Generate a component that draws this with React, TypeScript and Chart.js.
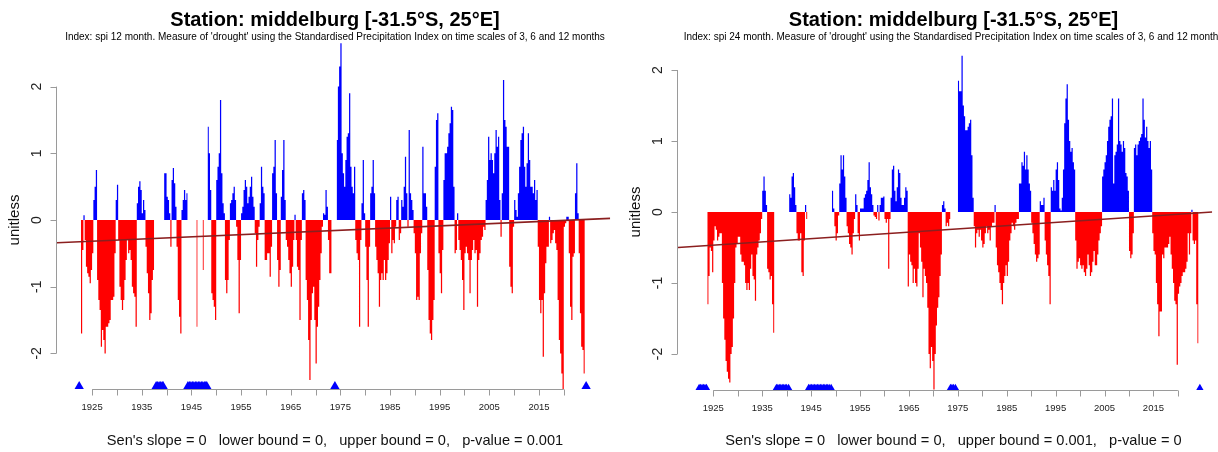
import React, { useEffect, useRef } from "react";
import { Chart, registerables } from "chart.js";

Chart.register(...registerables);

// ---------- texts ----------
const TITLE = "Station: middelburg [-31.5°S, 25°E]";
const SUBTITLE_12 =
  "Index: spi 12 month. Measure of 'drought' using the Standardised Precipitation Index on time scales of 3, 6 and 12 months";
const SUBTITLE_24 =
  "Index: spi 24 month. Measure of 'drought' using the Standardised Precipitation Index on time scales of 3, 6 and 12 months";
const FOOT_12 = "Sen's slope = 0   lower bound = 0,   upper bound = 0,   p-value = 0.001";
const FOOT_24 = "Sen's slope = 0   lower bound = 0,   upper bound = 0.001,   p-value = 0";
const Y_LABEL = "unitless";

// ---------- ticks ----------
const yTicks = [-2, -1, 0, 1, 2];
const xTicks = [1925, 1930, 1935, 1940, 1945, 1950, 1955, 1960, 1965, 1970, 1975, 1980, 1985, 1990, 1995, 2000, 2005, 2010, 2015, 2020];
const xTickLabels = [1925, 1935, 1945, 1955, 1965, 1975, 1985, 1995, 2005, 2015];

// ---------- SPI 12 : quarterly values, each array starts at its decade (null = missing) ----------
const spi12_1920s = [null, null, null, null, null, null, null, null, null, null, null,
  -1.7, -0.45, 0.07, -0.3, -0.7, -0.8, -0.85, -0.95, -0.75, -0.5, 0.3, 0.5, 0.75,
  -0.9, -1.2, -1.35, -1.9, -1.65, -1.8, -2.0, -1.6, -1.6, -1.55, -1.5, -1.2, -1.2, -1.15, -0.5, 0.3];
const spi12_1930s = [0.53, -0.3, -1.0, -1.2, -1.35, -1.2, -0.9, -0.6, -0.3, -0.5, -0.45, -0.6,
  -1.0, -1.1, -1.15, -1.6, 0.25, 0.5, 0.58, 0.45, 0.1, 0.3, 0.15, -0.4, -0.8, -1.1, -1.5, -1.4,
  -0.9, -0.75, null, null, null, null, null, null, null, null, 0.7, 0.7];
const spi12_1940s = [0.35, 0.3, 0.1, -0.4, 0.6, 0.78, 0.55, 0.2, -0.4, -1.2, -1.45, -1.7,
  0.15, 0.3, 0.45, 0.3, 0.4, null, null, null, null, null, null, null, -1.6, null, null, null, null,
  -0.75, null, null, null, 1.4, 1.0, 0.45, -1.1, -1.2, -1.3, -1.5];
const spi12_1950s = [0.6, 0.8, 1.0, 1.8, 0.7, 0.25, 0.1, -0.9, -1.1, -0.9, -0.3, 0.25, 0.3, 0.4,
  0.5, 0.3, -0.1, -0.6, -1.4, -0.6, 0.1, 0.2, 0.45, 0.6, 0.5, 0.25, 0.35, 0.5, 0.65, 0.35, 0.2,
  -0.2, -0.7, -0.3, -0.1, 0.25, 0.8, 0.5, 0.4, -0.6];
const spi12_1960s = [-0.6, -0.5, -0.5, -0.85, -0.4, 0.7, 0.8, 1.2, 0.4, -0.6, -1.0, -0.75, 0.35,
  0.75, 1.2, 0.3, -0.3, -0.4, -0.6, -0.8, -1.0, -0.7, -0.3, 0.08, -0.3, -0.7, -0.75, -1.5, -0.3,
  0.4, 0.45, 0.3, -0.9, -1.2, -1.8, -2.4, -1.5, -1.1, -1.0, -1.5];
const spi12_1970s = [-2.15, -1.6, -1.3, -0.9, -0.5, -0.1, 0.1, 0.08, 0.45, 0.2, -0.3, -0.8, -0.8,
  null, null, null, null, 1.2, 2.0, 2.3, 2.65, 1.0, 0.7, 0.5, 0.9, 1.25, 1.3, 1.9, 0.8, 0.5, 0.4,
  0.8, -0.3, -0.5, -0.6, -1.6, -0.3, 0.25, 0.9, 0.1];
const spi12_1980s = [-0.4, -0.9, -1.6, -0.4, 0.4, 0.5, 0.9, 0.4, -0.4, -0.6, -0.8, -1.3, -0.9,
  -0.8, -0.9, -0.6, -0.9, -0.8, -0.6, -0.35, 0.35, -0.5, -0.3, -0.35, -0.1, 0.3, 0.35, -0.3, -0.2,
  0.3, 0.2, 0.5, 0.95, 0.4, -0.1, 1.35, 0.4, 0.3, 0.15, -0.2];
const spi12_1990s = [-0.5, -1.2, -1.15, -1.2, -0.5, -0.2, 1.1, 0.4, 0.4, 0.2, -0.75, -1.5, -1.7,
  -1.8, -1.5, -1.2, 0.8, 1.5, 1.6, -0.5, -0.8, -1.1, -0.45, 0.6, 1.0, 1.0, 1.1, 1.3, 1.45, 1.7,
  1.65, 0.5, -0.5, -0.45, 0.1, -0.3, -0.45, -0.6, -0.9, -1.35];
const spi12_2000s = [-0.5, -0.4, -0.5, -0.6, -1.1, -0.6, -0.45, -0.3, -0.5, -0.45, -1.3, -0.6,
  -0.5, -0.3, -0.25, -0.1, -0.15, 0.3, 0.6, 1.25, 0.9, 1.0, 0.9, 0.7, 1.0, 1.35, 1.1, 1.25, 0.3,
  -0.25, 0.4, 2.1, 1.5, 1.4, 1.1, 1.1, -0.7, -1.0, -1.1, -0.1];
const spi12_2010s = [0.3, 0.15, 0.05, 0.4, 0.8, 1.2, 1.3, 1.4, 0.8, 0.5, 0.85, 1.3, 0.9, 0.5, 0.5,
  0.4, 0.6, 0.3, 0.45, -0.4, -1.2, -1.4, -1.2, -2.05, -1.1, -0.65, -0.4, -0.4, 0.05, -0.35, -0.3,
  -0.2, -0.15, -0.35, -0.45, -1.2, -1.8, -2.0, -2.3, -2.55];
const spi12_2020s = [-0.1, -0.05, 0.05, 0.05, -0.5, -1.3, -1.5, -0.55, -0.5, 0.4, 0.85, 0.1, -0.5,
  -1.4, -1.9, -1.95, -2.3];

// ---------- SPI 24 ----------
const spi24_1920s = [null, null, null, null, null, null, null, null, null, null, null, null, null, null, null,
  -1.3, -0.9, -0.5, -0.55, -0.85, -0.4, -0.2, -0.25, -0.4, -0.35, -0.3, -0.3, -1.0, -1.5, -1.8,
  -2.1, -2.25, -2.35, -2.4, -2.0, -1.9, -1.5, -1.0, -0.5, -0.45];
const spi24_1930s = [-0.35, -0.35, -0.6, -0.7, -0.7, -0.75, -1.0, -1.1, -1.0, -1.1, -0.8, -0.6,
  -0.9, -0.95, -1.25, -0.6, -0.5, -0.4, -0.3, -0.1, 0.3, 0.5, 0.3, 0.1, -0.8, -0.85, -0.95, -0.9,
  -1.3, -1.7, null, null, null, null, null, null, null, null, null, null];
const spi24_1940s = [null, null, 0.25, 0.2, 0.5, 0.55, 0.35, 0.1, -0.3, -0.4, -0.4, -0.3, -0.85,
  -0.9, -0.4, 0.1, -0.1, null, null, null, null, null, null, null, null, null, null, null, null,
  null, null, null, null, null, null, null, null, 0.3, 0.05, -0.2];
const spi24_1950s = [-0.4, -0.3, -0.05, 0.4, 0.8, 0.6, 0.8, 0.5, 0.2, -0.2, -0.3, -0.45, -0.5,
  -0.6, -0.3, -0.1, 0.25, 0.1, -0.3, -0.4, 0.05, 0.05, 0.05, 0.2, 0.25, 0.3, 0.45, 0.7, 0.35, 0.25,
  0.1, -0.05, -0.07, -0.1, 0.1, -0.12, 0.1, 0.2, 0.2, 0.22];
const spi24_1960s = [-0.1, -0.15, -0.1, -0.8, -0.1, 0.2, 0.6, 0.65, 0.3, 0.15, 0.35, 0.6, 0.55,
  0.2, 0.1, 0.1, 0.2, 0.35, 0.3, -1.05, -0.6, -0.7, -0.75, -1.0, -0.8, -1.0, -1.05, -0.8, -0.3,
  -0.5, -0.7, -1.2, -0.8, -0.9, -1.0, -1.35, -2.0, -2.2, -1.9, -2.1];
const spi24_1970s = [-2.5, -2.0, -1.6, -1.35, -1.2, -0.9, -0.6, 0.1, 0.15, 0.05, -0.2, -0.15, -0.2,
  -0.1, null, null, null, null, null, null, 1.85, 1.7, 1.7, 2.2, 1.5, 1.35, 1.15, 1.15, 1.2, 1.25,
  1.3, 0.8, 0.2, -0.2, -0.5, -0.3, -0.25, -0.35, -0.25, -0.4];
const spi24_1980s = [-0.5, -0.45, -0.3, -0.2, -0.3, -0.25, -0.4, -0.2, -0.15, -0.15, 0.1, -0.5,
  -0.75, -0.85, -1.0, -1.1, -1.3, -1.0, -0.9, -0.75, -0.9, -0.7, -0.4, -0.3, -0.15, -0.2, -0.25,
  -0.15, -0.1, -0.1, 0.4, 0.4, 0.7, 0.65, 0.85, 0.6, 0.8, 0.6, 0.4, 0.3];
const spi24_1990s = [-0.15, -0.3, -0.45, -0.6, -0.7, -0.65, -0.6, 0.15, 0.1, 0.1, 0.2, -0.4, -0.6,
  -0.75, -0.9, -1.3, 0.35, 0.3, 0.45, 0.3, 0.6, 0.7, 0.45, 0.05, 0.02, 0.2, 0.6, 1.25, 1.6, 1.8,
  1.3, 1.0, 0.85, 0.9, 0.7, 0.6, -0.4, -0.8, -0.7, -0.65];
const spi24_2000s = [-0.75, -0.8, -0.75, -0.85, -0.9, -0.8, -0.6, -0.75, -0.9, -0.85, -0.7, -0.55,
  -0.75, -0.75, -0.6, -0.4, -0.3, -0.2, 0.5, 0.6, 0.7, 0.8, 1.0, 1.2, 1.3, 1.35, 1.6, 0.4, 0.8,
  0.85, 0.95, 1.6, 1.0, 0.95, 0.85, 1.0, 0.9, 0.55, 0.5, 0.3];
const spi24_2010s = [-0.55, -0.65, -0.6, -0.3, 0.9, 0.95, 0.8, 0.95, 1.0, 1.05, 1.1, 1.6, 1.3,
  1.05, 1.2, 1.0, 0.9, 1.0, 0.6, -0.3, -0.55, -0.6, -1.0, -1.3, -1.75, -1.4, -1.4, -0.6, -0.65,
  -0.5, -0.5, -0.5, -0.45, -0.35, -0.6, -0.8, -1.0, -1.25, -1.3, -2.15];
const spi24_2020s = [-1.15, -1.05, -1.0, -0.9, -0.85, -0.85, -0.8, -0.7, -0.3, -0.6, -0.3, 0.03,
  -0.4, -0.45, -0.4, -1.3, -1.85];

const decadeStarts = [1920, 1930, 1940, 1950, 1960, 1970, 1980, 1990, 2000, 2010, 2020];
const spi12Decades = [spi12_1920s, spi12_1930s, spi12_1940s, spi12_1950s, spi12_1960s, spi12_1970s,
  spi12_1980s, spi12_1990s, spi12_2000s, spi12_2010s, spi12_2020s];
const spi24Decades = [spi24_1920s, spi24_1930s, spi24_1940s, spi24_1950s, spi24_1960s, spi24_1970s,
  spi24_1980s, spi24_1990s, spi24_2000s, spi24_2010s, spi24_2020s];

// missing-data markers (years)
const missing12 = [1922.4, 1937.9, 1938.2, 1938.5, 1938.8, 1939.1, 1939.3, 1944.3, 1944.6, 1944.9,
  1945.2, 1945.5, 1945.8, 1946.1, 1946.4, 1946.7, 1947.0, 1947.3, 1947.6, 1947.9, 1948.1, 1973.9, 2024.5];
const missing24 = [1922.1, 1922.4, 1922.7, 1923.0, 1923.3, 1923.6, 1937.9, 1938.2, 1938.5, 1938.8,
  1939.1, 1939.4, 1939.7, 1940.0, 1940.4, 1944.5, 1944.8, 1945.1, 1945.4, 1945.7, 1946.0, 1946.3,
  1946.6, 1946.9, 1947.2, 1947.5, 1947.8, 1948.1, 1948.4, 1948.7, 1949.1, 1973.5, 1973.8, 1974.1,
  1974.5, 2024.5];
const missingLevel = -2.5;

// Sen trend line values at the left and right plot edges
const trend12 = [-0.34, 0.025];
const trend24 = [-0.5, 0.0];

// ---------- drawing helpers ----------
const FONT = "'Liberation Sans', Arial, Helvetica, sans-serif";
const BLUE = "#0000ff";
const RED = "#ff0000";
const QUARTER = 0.25;

// each quarterly value becomes a flat step spanning its quarter; missing values break the area
function toStepPoints(decades: (number | null)[][]) {
  const pts: { x: number; y: number | null }[] = [];
  decades.forEach((vals, d) => {
    vals.forEach((v, i) => {
      const start = decadeStarts[d] + i * QUARTER;
      if (v === null) {
        pts.push({ x: start + QUARTER / 2, y: null });
      } else {
        pts.push({ x: start, y: v });
        pts.push({ x: start + QUARTER, y: v });
      }
    });
  });
  return pts;
}

const rPlot = {
  id: "rPlot",
  afterDraw(chart: any, _args: any, o: any) {
    const { ctx, chartArea: a } = chart;
    const sx = chart.scales.x;
    const sy = chart.scales.y;
    ctx.save();
    ctx.strokeStyle = "#9a9a9a";
    ctx.lineWidth = 1;
    // y axis
    const ax = Math.round(a.left) - 0.5;
    ctx.beginPath();
    ctx.moveTo(ax, sy.getPixelForValue(yTicks[0]));
    ctx.lineTo(ax, sy.getPixelForValue(yTicks[yTicks.length - 1]));
    yTicks.forEach((v) => {
      const py = Math.round(sy.getPixelForValue(v)) + 0.5;
      ctx.moveTo(ax - 6, py);
      ctx.lineTo(ax, py);
    });
    // x axis
    const ay = Math.round(a.bottom) + 0.5;
    ctx.moveTo(sx.getPixelForValue(xTicks[0]), ay);
    ctx.lineTo(sx.getPixelForValue(xTicks[xTicks.length - 1]), ay);
    xTicks.forEach((v) => {
      const px = Math.round(sx.getPixelForValue(v)) + 0.5;
      ctx.moveTo(px, ay);
      ctx.lineTo(px, ay + 6);
    });
    ctx.stroke();

    // tick labels
    ctx.fillStyle = "#222";
    ctx.textAlign = "center";
    ctx.textBaseline = "middle";
    ctx.font = `14px ${FONT}`;
    yTicks.forEach((v) => {
      ctx.save();
      ctx.translate(ax - 19, sy.getPixelForValue(v));
      ctx.rotate(-Math.PI / 2);
      ctx.fillText(String(v), 0, 0);
      ctx.restore();
    });
    ctx.font = `9.5px ${FONT}`;
    xTickLabels.forEach((v) => {
      ctx.fillText(String(v), sx.getPixelForValue(v), ay + 18);
    });

    // axis title
    ctx.fillStyle = "#111";
    ctx.font = `15px ${FONT}`;
    ctx.save();
    ctx.translate(o.yTitleX, sy.getPixelForValue(0));
    ctx.rotate(-Math.PI / 2);
    ctx.fillText(Y_LABEL, 0, 0);
    ctx.restore();

    // titles
    ctx.textBaseline = "alphabetic";
    ctx.fillStyle = "#000";
    ctx.font = `bold 20px ${FONT}`;
    ctx.fillText(o.title, o.centerX, 26);
    ctx.font = `10px ${FONT}`;
    ctx.fillText(o.subtitle, o.centerX, 40);
    ctx.fillStyle = "#111";
    ctx.font = `14.6px ${FONT}`;
    ctx.fillText(o.foot, o.centerX, 445);
    ctx.restore();
  },
};

type PanelCfg = {
  left: number;
  width: number;
  pad: { left: number; right: number; top: number; bottom: number };
  xMin: number;
  xMax: number;
  yMin: number;
  yMax: number;
  centerX: number;
  yTitleX: number;
  title: string;
  subtitle: string;
  foot: string;
  decades: (number | null)[][];
  missing: number[];
  trend: number[];
};

function Panel({ cfg }: { cfg: PanelCfg }) {
  const ref = useRef<HTMLCanvasElement>(null);
  useEffect(() => {
    const pts = toStepPoints(cfg.decades);
    const chart = new Chart(ref.current as HTMLCanvasElement, {
      type: "line",
      data: {
        datasets: [
          {
            data: [
              { x: cfg.xMin, y: cfg.trend[0] },
              { x: cfg.xMax, y: cfg.trend[1] },
            ],
            borderColor: "#8b1f1f",
            borderWidth: 1.6,
            pointRadius: 0,
            fill: false,
            order: 0,
          } as any,
          {
            data: cfg.missing.map((x) => ({ x, y: missingLevel })),
            showLine: false,
            pointStyle: "triangle",
            pointRadius: 5.8,
            pointBackgroundColor: BLUE,
            pointBorderColor: BLUE,
            pointBorderWidth: 0,
            fill: false,
            order: 1,
          } as any,
          {
            data: pts,
            borderColor: "rgba(0,0,0,0)",
            borderWidth: 0,
            pointRadius: 0,
            tension: 0,
            spanGaps: false,
            fill: { target: "origin", above: BLUE, below: RED },
            order: 2,
          } as any,
        ],
      },
      options: {
        responsive: false,
        animation: false,
        events: [],
        layout: { padding: cfg.pad },
        scales: {
          x: { type: "linear", min: cfg.xMin, max: cfg.xMax, display: false },
          y: { type: "linear", min: cfg.yMin, max: cfg.yMax, display: false },
        },
        plugins: {
          legend: { display: false },
          tooltip: { enabled: false },
          rPlot: {
            title: cfg.title,
            subtitle: cfg.subtitle,
            foot: cfg.foot,
            centerX: cfg.centerX,
            yTitleX: cfg.yTitleX,
          },
        } as any,
      },
      plugins: [rPlot],
    });
    return () => chart.destroy();
  }, []);
  return (
    <canvas
      ref={ref}
      width={cfg.width}
      height={452}
      style={{ position: "absolute", left: cfg.left, top: 0, width: cfg.width, height: 452 }}
    />
  );
}

const leftCfg: PanelCfg = {
  left: 0,
  width: 616,
  pad: { left: 57, right: 3, top: 39.8, bottom: 63 },
  xMin: 1917.93,
  xMax: 2029.35,
  yMin: -2.534,
  yMax: 2.702,
  centerX: 335,
  yTitleX: 15,
  title: TITLE,
  subtitle: SUBTITLE_12,
  foot: FOOT_12,
  decades: spi12Decades,
  missing: missing12,
  trend: trend12,
};

const rightCfg: PanelCfg = {
  left: 616,
  width: 602,
  pad: { left: 62, right: 0, top: 45, bottom: 62 },
  xMin: 1917.78,
  xMax: 2027.02,
  yMin: -2.507,
  yMax: 2.352,
  centerX: 337.5,
  yTitleX: 20,
  title: TITLE,
  subtitle: SUBTITLE_24,
  foot: FOOT_24,
  decades: spi24Decades,
  missing: missing24,
  trend: trend24,
};

export default function App() {
  useEffect(() => {
    document.body.style.margin = "0";
    document.body.style.overflow = "hidden";
  }, []);
  return (
    <div style={{ position: "relative", width: 1218, height: 452, background: "#fff", overflow: "hidden" }}>
      <Panel cfg={leftCfg} />
      <Panel cfg={rightCfg} />
    </div>
  );
}
